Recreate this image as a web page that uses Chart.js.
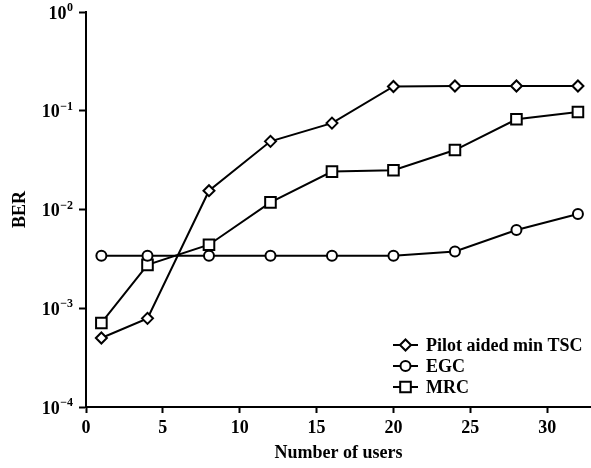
<!DOCTYPE html>
<html>
<head>
<meta charset="utf-8">
<script src="https://cdn.jsdelivr.net/npm/chart.js@4.4.1/dist/chart.umd.min.js"></script>
<style>
  html, body { margin: 0; padding: 0; background: #fff; }
  #wrap { width: 591px; height: 468px; }
</style>
</head>
<body>
<div id="wrap"><canvas id="berChart" width="591" height="468"></canvas></div>
<script>
// values
const users = [1, 4, 8, 12, 16, 20, 24, 28, 32];
const pilotBER = [5.0e-4, 7.9e-4, 0.0155, 0.049, 0.075, 0.176, 0.178, 0.178, 0.178];
const egcBER = [3.4e-3, 3.4e-3, 3.4e-3, 3.4e-3, 3.4e-3, 3.4e-3, 3.75e-3, 6.2e-3, 9.0e-3];
const mrcBER = [7.1e-4, 2.75e-3, 4.4e-3, 0.0118, 0.0242, 0.025, 0.040, 0.082, 0.097];
const yTicks = [1e-4, 1e-3, 1e-2, 1e-1, 1];
const yExponents = ['\u22124', '\u22123', '\u22122', '\u22121', '0'];
const xTicks = [0, 5, 10, 15, 20, 25, 30];

const FONT = "'Liberation Serif', 'Times New Roman', serif";

function toPoints(ys) {
    return users.map((x, i) => ({ x, y: ys[i] }));
}

function series(label, ys, style, radius) {
    return {
        label,
        data: toPoints(ys),
        borderColor: '#000',
        borderWidth: 2,
        backgroundColor: '#fff',
        pointStyle: style,
        pointRadius: radius,
        pointBorderWidth: 2,
        pointBackgroundColor: '#fff',
        pointBorderColor: '#000',
        tension: 0
    };
}

// y labels as 10 with a raised exponent, placed by the log scale
const powerLabels = {
    id: 'powerLabels',
    afterDraw(chart) {
        const ctx = chart.ctx;
        const s = chart.scales.y;
        const right = 73;
        ctx.save();
        ctx.fillStyle = '#000';
        ctx.textBaseline = 'middle';
        ctx.textAlign = 'right';
        yTicks.forEach((v, i) => {
            const y = s.getPixelForValue(v);
            ctx.font = 'bold 12px ' + FONT;
            const ew = ctx.measureText(yExponents[i]).width;
            ctx.fillText(yExponents[i], right, y - 4);
            ctx.font = 'bold 18px ' + FONT;
            ctx.fillText('10', right - ew - 0.5, y + 2);
        });
        ctx.restore();
    }
};

// legend in lower right: short line with marker, then label
const lineLegend = {
    id: 'lineLegend',
    afterDraw(chart) {
        const ctx = chart.ctx;
        const x0 = 393, x1 = 418, tx = 426;
        const rows = [345, 366, 387];
        ctx.save();
        chart.data.datasets.forEach((ds, i) => {
            const y = rows[i];
            ctx.strokeStyle = '#000';
            ctx.lineWidth = 2;
            ctx.beginPath();
            ctx.moveTo(x0, y);
            ctx.lineTo(x1, y);
            ctx.stroke();
            ctx.fillStyle = '#fff';
            Chart.helpers.drawPoint(ctx, {
                pointStyle: ds.pointStyle,
                radius: ds.pointRadius,
                borderWidth: 2
            }, (x0 + x1) / 2, y);
            ctx.fillStyle = '#000';
            ctx.font = 'bold 18px ' + FONT;
            ctx.textBaseline = 'middle';
            ctx.textAlign = 'left';
            ctx.fillText(ds.label, tx, y + 1);
        });
        ctx.restore();
    }
};

new Chart(document.getElementById('berChart'), {
    type: 'line',
    data: {
        datasets: [
            series('Pilot aided min TSC', pilotBER, 'rectRot', 5.5),
            series('EGC', egcBER, 'circle', 5),
            series('MRC', mrcBER, 'rect', 7.5)
        ]
    },
    options: {
        responsive: false,
        animation: false,
        layout: { autoPadding: false, padding: { top: 12, right: 0, left: 0, bottom: 0 } },
        plugins: { legend: { display: false }, tooltip: { enabled: false } },
        scales: {
            x: {
                type: 'linear',
                min: 0,
                max: 32.85,
                afterBuildTicks: s => { s.ticks = xTicks.map(v => ({ value: v })); },
                afterFit: s => { s.height = 61; s.paddingLeft = 0; s.paddingRight = 0; },
                ticks: {
                    color: '#000',
                    font: { family: FONT, size: 18, weight: 'bold' },
                    padding: 5,
                    maxRotation: 0
                },
                grid: {
                    drawOnChartArea: false,
                    drawTicks: true,
                    tickLength: 6,
                    tickWidth: 2,
                    color: '#000'
                },
                border: { display: true, color: '#000', width: 2 },
                title: {
                    display: true,
                    text: 'Number of users',
                    color: '#000',
                    font: { family: FONT, size: 18, weight: 'bold' },
                    padding: { top: 0, bottom: 4 }
                }
            },
            y: {
                type: 'logarithmic',
                min: 1e-4,
                max: 1,
                afterBuildTicks: s => { s.ticks = yTicks.map(v => ({ value: v })); },
                afterFit: s => { s.width = 86; s.paddingTop = 0; s.paddingBottom = 0; },
                ticks: { display: false },
                grid: {
                    drawOnChartArea: false,
                    drawTicks: true,
                    tickLength: 7,
                    tickWidth: 2,
                    color: '#000'
                },
                border: { display: true, color: '#000', width: 2 },
                title: {
                    display: true,
                    text: 'BER',
                    color: '#000',
                    font: { family: FONT, size: 18, weight: 'bold' },
                    padding: { top: 10, bottom: 0 }
                }
            }
        }
    },
    plugins: [powerLabels, lineLegend]
});
</script>
</body>
</html>
